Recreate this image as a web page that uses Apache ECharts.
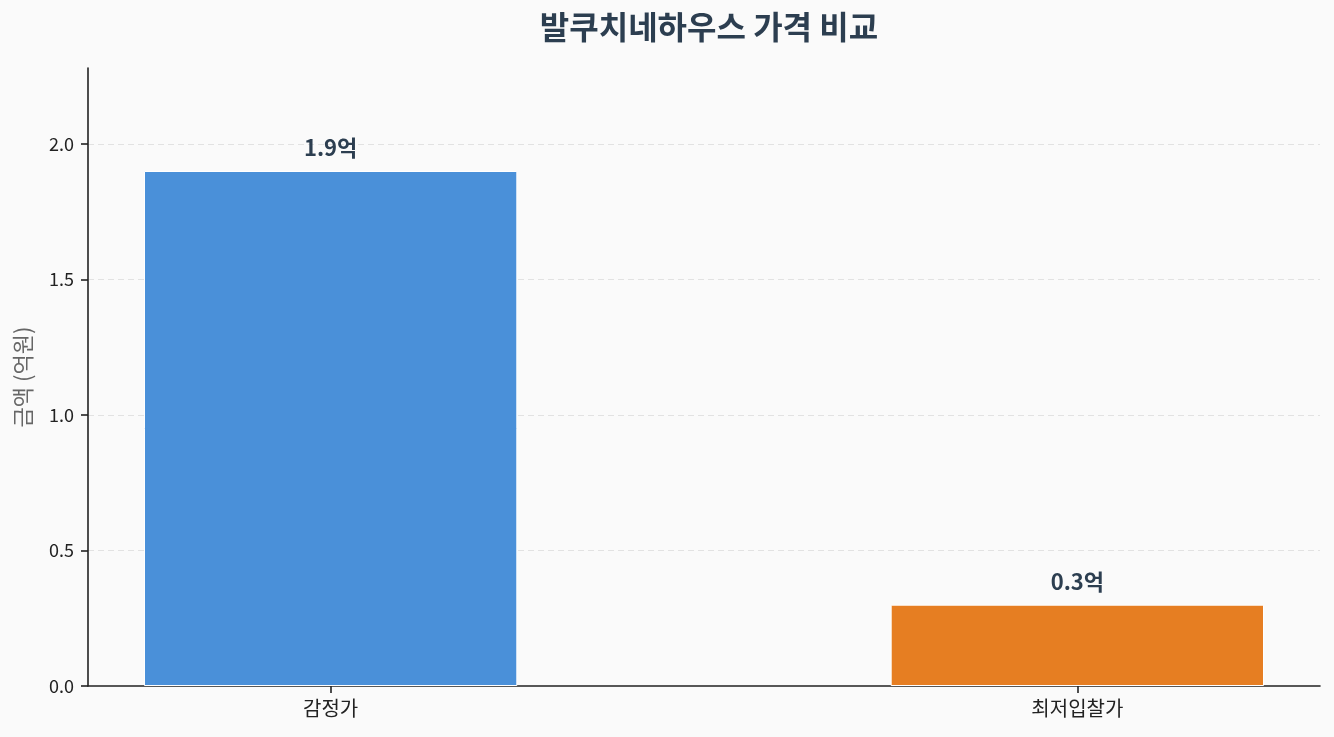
<!DOCTYPE html>
<html>
<head>
<meta charset="utf-8">
<script src="https://cdn.jsdelivr.net/npm/echarts@6/dist/echarts.min.js"></script>
<style>
html,body{margin:0;padding:0;background:#fafafa;}
#chart{width:1334px;height:737px;}
</style>
</head>
<body>
<div id="chart"></div>
<script>
var categories = ['감정가', '최저입찰가'];
var values = [1.9, 0.3];
var colors = ['#4A90D9', '#E67E22'];
var yTicks = [0, 0.5, 1.0, 1.5, 2.0];
var titleText = '발쿠치네하우스 가격 비교';
var yName = '금액 (억원)';

var FONT = '"Noto Sans CJK KR", "Noto Sans", sans-serif';
var chart = echarts.init(document.getElementById('chart'));
var gridLeft = 88, gridRight = 14;
var plotW = 1334 - gridLeft - gridRight;
var xMin = -0.325, xMax = 1.325;
var barPx = plotW / (xMax - xMin) * 0.5;

var option = {
  backgroundColor: '#fafafa',
  animation: false,
  title: {
    text: titleText,
    left: gridLeft + plotW / 2,
    top: 6,
    textAlign: 'center',
    textStyle: { fontFamily: FONT, fontSize: 32, fontWeight: 'bold', color: '#2c3e50' }
  },
  grid: { left: gridLeft, right: gridRight, top: 68, bottom: 51, containLabel: false },
  xAxis: {
    type: 'value',
    min: xMin,
    max: xMax,
    axisLine: { show: true, onZero: false, lineStyle: { color: '#222', width: 1.6 } },
    axisTick: { show: true, inside: false, customValues: [0, 1], length: 7, lineStyle: { color: '#222', width: 1.6 } },
    axisLabel: {
      customValues: [0, 1],
      formatter: function (v) { return categories[Math.round(v)] || ''; },
      fontFamily: FONT, fontSize: 20, color: '#222', margin: 12
    },
    splitLine: { show: false }
  },
  yAxis: {
    type: 'value',
    min: 0,
    max: 2.28,
    name: yName,
    nameLocation: 'middle',
    nameGap: 54,
    nameTextStyle: { fontFamily: FONT, fontSize: 22, color: '#666' },
    axisLine: { show: true, onZero: false, lineStyle: { color: '#222', width: 1.6 } },
    axisTick: { show: true, inside: false, customValues: yTicks, length: 7, lineStyle: { color: '#222', width: 1.6 } },
    axisLabel: {
      customValues: yTicks,
      formatter: function (v) { return v.toFixed(1); },
      fontFamily: FONT, fontSize: 18, color: '#222', margin: 14
    },
    splitLine: { show: false }
  },
  series: [{
    type: 'bar',
    barWidth: barPx,
    data: values.map(function (v, i) {
      return { value: [i, v], itemStyle: { color: colors[i], borderColor: '#ffffff', borderWidth: 1 } };
    }),
    label: {
      show: true,
      position: 'top',
      distance: 12,
      formatter: function (p) { return p.value[1].toFixed(1) + '억'; },
      fontFamily: FONT, fontSize: 22, fontWeight: 'bold', color: '#2c3e50'
    },
    markLine: {
      silent: true,
      symbol: 'none',
      label: { show: false },
      z: -1,
      lineStyle: { color: '#e2e2e2', type: [6, 4], width: 1.2 },
      data: yTicks.filter(function (t) { return t > 0; }).map(function (t) { return { yAxis: t }; })
    },
    z: 3
  }]
};
chart.setOption(option);
</script>
</body>
</html>
